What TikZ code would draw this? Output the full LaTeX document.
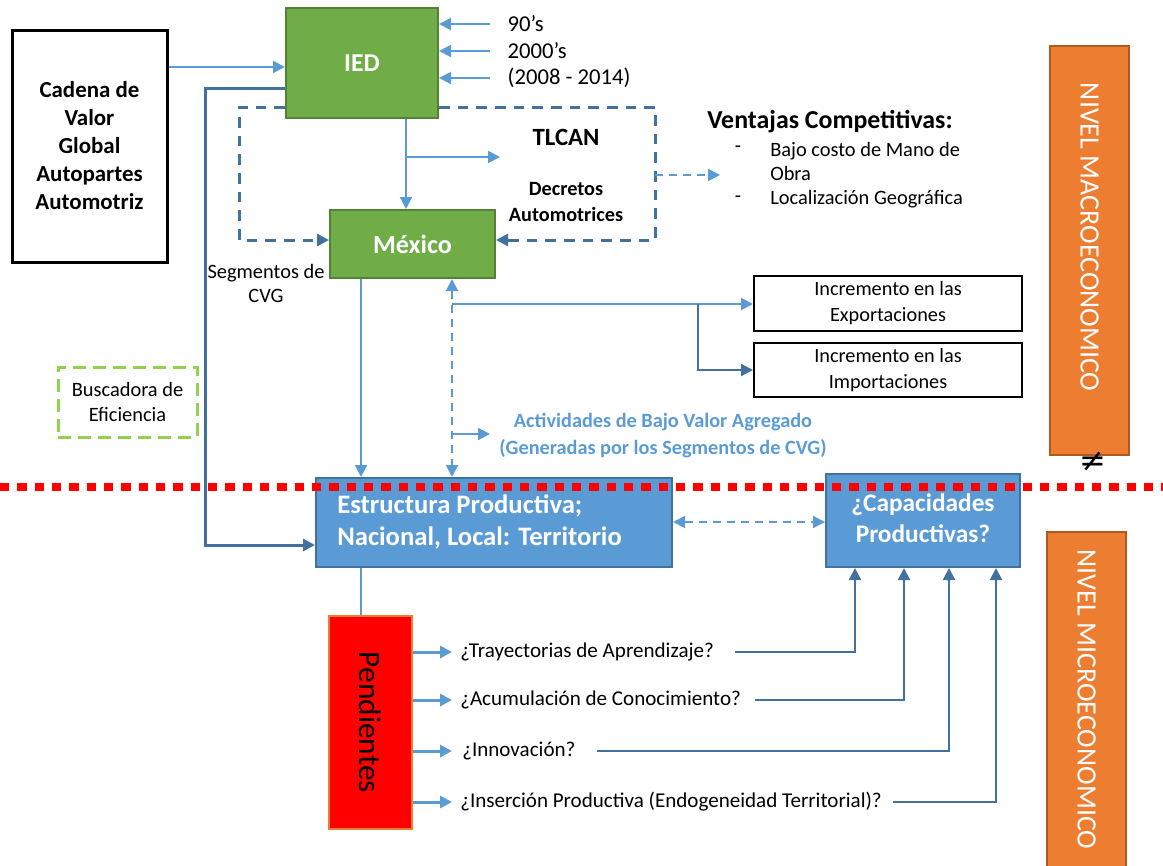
\documentclass[tikz,border=0pt]{standalone}
\usepackage{fontspec}
\setmainfont{Carlito}
\newfontfamily\djv{DejaVu Sans}
\usetikzlibrary{arrows.meta}
\definecolor{lb}{HTML}{5B9BD5}
\definecolor{db}{HTML}{41719C}
\definecolor{gfill}{HTML}{70AD47}
\definecolor{gline}{HTML}{548235}
\definecolor{lgreen}{HTML}{92D050}
\definecolor{ofill}{HTML}{ED7D31}
\definecolor{oline}{HTML}{AE5A21}
\begin{document}
\begin{tikzpicture}[x=0.75pt,y=-0.75pt,
  tip/.style={-{Triangle[length=9pt,width=9pt]}},
  tips/.style={{Triangle[length=9pt,width=9pt]}-{Triangle[length=9pt,width=9pt]}},
  la/.style={draw=lb,line width=1.5pt,tip},
  ldash/.style={draw=lb,line width=1.5pt,dash pattern=on 6pt off 4.5pt},
  ddash/.style={draw=db,line width=2.25pt,dash pattern=on 8pt off 6pt},
  dsol/.style={draw=db,line width=2.25pt},
  dthin/.style={draw=db,line width=1.6pt},
  greenbox/.style={draw=gline,line width=1.5pt,fill=gfill,text=white,font=\bfseries},
  bluebox/.style={draw=db,line width=1.5pt,fill=lb,text=white,font=\bfseries},
  blackbox/.style={draw=black,line width=1.5pt,fill=white,align=center,font=\fontsize{15.2}{19.5}\selectfont},
  orangebox/.style={draw=oline,line width=1.5pt,fill=ofill},
  vtext/.style={rotate=-90,text=white,font=\fontsize{21}{22}\selectfont},
  qtext/.style={anchor=west,inner xsep=6pt,inner ysep=2pt,font=\fontsize{15.8}{18}\selectfont},
  plain/.style={inner sep=0pt,align=center},
  body/.style={font=\fontsize{15.3}{18}\selectfont},
]
\useasboundingbox (0,0) rectangle (1163,865);

% boxes
\node[draw=black,line width=2.25pt,minimum width=116.25pt,minimum height=174pt,align=center,
  font=\bfseries\fontsize{17.2}{21}\selectfont] (cad) at (89.5,146)
  {Cadena de\\Valor\\Global\\Autopartes\\Automotriz};
\node[greenbox,minimum width=114pt,minimum height=82.5pt,font=\bfseries\fontsize{19.3}{20}\selectfont] (ied) at (362,63) {IED};
\node[greenbox,minimum width=123.75pt,minimum height=51pt,font=\bfseries\fontsize{19.6}{20}\selectfont] (mex) at (412.5,244) {México};
\node[blackbox,minimum width=201pt,minimum height=41.25pt] (exp) at (888,303.5) {Incremento en las\\Exportaciones};
\node[blackbox,minimum width=201pt,minimum height=40.5pt] (imp) at (888,370) {Incremento en las\\Importaciones};
\node[draw=lgreen,line width=2.25pt,dash pattern=on 10pt off 5pt,minimum width=104.25pt,minimum height=52.5pt,
  align=center,font=\fontsize{15.3}{19}\selectfont] (busc) at (127.5,402) {Buscadora de\\Eficiencia};
\node[bluebox,minimum width=267pt,minimum height=66.75pt] (estr) at (494,522.5) {};
\node[anchor=west,inner sep=0pt,align=left,text=white,font=\bfseries\fontsize{20}{24}\selectfont] (estrt) at ([xshift=16.5pt,yshift=0.75pt]estr.west) {Estructura Productiva;\\Nacional, Local: Territorio};
\node[bluebox,minimum width=145.5pt,minimum height=69.75pt] (cap) at (923,520.5) {};
\node[plain,text=white,font=\bfseries\fontsize{19}{23}\selectfont] (capt) at ([yshift=1.5pt]cap.center) {¿Capacidades\\Productivas?};
\node[draw=ofill,line width=1pt,fill=red,minimum width=62.25pt,minimum height=159.75pt] (pend) at (370.5,722.5) {};
\node[rotate=-90,font=\fontsize{23.5}{24}\selectfont] (pendt) at (pend.center) {Pendientes};
\node[orangebox,minimum width=59.25pt,minimum height=306.75pt] (macro) at (1089.5,250.5) {};
\node[vtext] (macrot) at ([yshift=10pt]macro.center) {NIVEL MACROECONOMICO};
\node[orangebox,minimum width=59.25pt,minimum height=251pt] (micro) at (1086.5,699.5) {};
\node[vtext] (microt) at (micro.center) {NIVEL MICROECONOMICO};

% texts
\node[anchor=west,font=\fontsize{17}{18}\selectfont] (t90) at (503,24) {90’s};
\node[anchor=west,font=\fontsize{17}{18}\selectfont] (t2000) at (503,51) {2000’s};
\node[anchor=west,font=\fontsize{17}{18}\selectfont] (t2008) at (503,78) {(2008 - 2014)};
\node[plain,font=\bfseries\fontsize{18.6}{20}\selectfont] (tlcan) at (566,137) {TLCAN};
\node[plain,font=\bfseries\fontsize{15.2}{20}\selectfont] (decr) at (566,202) {Decretos\\Automotrices};
\node[anchor=west,inner sep=0pt,font=\bfseries\fontsize{19.4}{20}\selectfont] (vent) at (707,122) {Ventajas Competitivas:};
\node[plain,body] (d1) at (738,149) {-};
\node[plain,body] (d2) at (738,199) {-};
\node[anchor=west,inner sep=0pt,align=left,font=\fontsize{15.3}{18}\selectfont] (v1) at (770,161) {Bajo costo de Mano de\\Obra};
\node[anchor=west,inner sep=0pt,body] (v2) at (770,199) {Localización Geográfica};
\node[plain,font=\fontsize{15.3}{18.5}\selectfont] (seg) at (266,283.5) {Segmentos de\\CVG};
\node[plain,text=lb,font=\bfseries\fontsize{15.2}{20}\selectfont] (act) at (663,435.5) {Actividades de Bajo Valor Agregado\\(Generadas por los Segmentos de CVG)};
\node[plain,font=\djv\fontsize{24}{24}\selectfont] (neq) at (1093,462) {≠};

\node[qtext] (q1) at (452,652) {¿Trayectorias de Aprendizaje?};
\node[qtext] (q2) at (452,700) {¿Acumulación de Conocimiento?};
\node[qtext] (q3) at (454,751) {¿Innovación?};
\node[qtext] (q4) at (452,802) {¿Inserción Productiva (Endogeneidad Territorial)?};

\coordinate (vtip) at (720,175);
\coordinate (ttip) at (500,157);
\coordinate (atip) at (490,434);

% connectors
\draw[la] (cad.east |- 0,67) -- (ied.west |- 0,67);
\draw[la] ([xshift=-10pt]t90.west) -- (ied.east |- t90.west);
\draw[la] ([xshift=-10pt]t2000.west) -- (ied.east |- t2000.west);
\draw[la] ([xshift=-10pt]t2008.west) -- (ied.east |- t2008.west);

\draw[dsol,tip] (ied.west |- 0,88) -| (205,545) -- (estr.west |- 0,545);
\draw[ddash,tip] (ied.west |- 0,107) -| (239,240) -- (mex.west |- 0,240);
\draw[ddash,tip] (ied.east |- 0,107) -| (655,240) -- (mex.east |- 0,240);
\draw[ldash,tip] (655,175) -- (vtip);

\draw[la] (ied.south -| 406,0) -- (mex.north -| 406,0);
\draw[la] (406,157) -- (ttip);

\draw[la] (mex.south -| 361,0) -- (estr.north -| 361,0);
\draw[ldash,tips] (mex.south -| 452,0) -- (estr.north -| 452,0);
\draw[la] (452,304) -- (exp.west |- 0,304);
\draw[dthin,tip] (698,304) |- (imp.west |- 0,370);
\draw[la] (452,434) -- (atip);

\draw[ldash,tips] (estr.east |- 0,522) -- (cap.west |- 0,522);
\draw[draw=lb,line width=1.5pt] (estr.south -| 361,0) -- (pend.north -| 361,0);

\draw[la,line width=2.25pt] (pend.east |- q1.west) -- (q1.west);
\draw[la,line width=2.25pt] (pend.east |- q2.west) -- (q2.west);
\draw[la,line width=2.25pt] (pend.east |- q3.west) -- ([xshift=-1.5pt]q3.west);
\draw[la,line width=2.25pt] (pend.east |- q4.west) -- (q4.west);

\draw[dthin,tip] ([xshift=10pt]q1.east) -| (cap.south -| 855,0);
\draw[dthin,tip] ([xshift=4pt]q2.east) -| (cap.south -| 904,0);
\draw[dthin,tip] ([xshift=10pt]q3.east) -| (cap.south -| 949,0);
\draw[dthin,tip] ([xshift=2pt]q4.east) -| (cap.south -| 996,0);

% red dotted divider
\draw[red,line width=6.5pt,dash pattern=on 7pt off 6pt] (0,487) -- (1163,487);
\end{tikzpicture}
\end{document}
